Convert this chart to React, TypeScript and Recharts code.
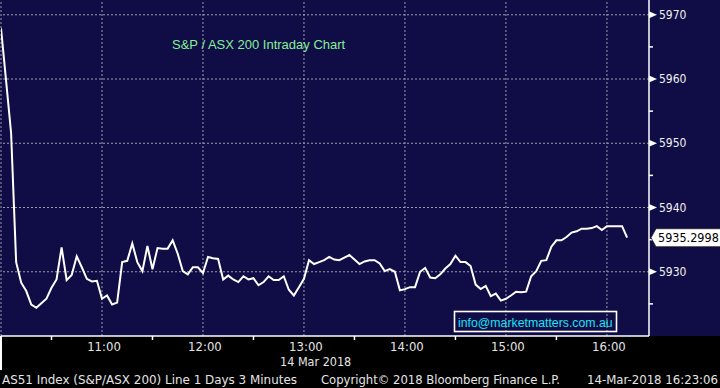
import React from "react";
import { LineChart, Line, XAxis, YAxis, ReferenceLine } from "recharts";

// S&P/ASX 200, 3-minute closes from 10:00
const closes = [
  5967.9, 5959.8, 5951.6, 5931.5, 5928.3, 5927.0, 5924.9, 5924.4, 5925.1, 5925.8,
  5927.5, 5928.8, 5933.8, 5928.7, 5929.5, 5932.4, 5930.7, 5928.9, 5928.5, 5928.6,
  5925.8, 5926.3, 5924.9, 5925.2, 5931.5, 5931.7, 5934.4, 5931.5, 5930.1, 5934.0,
  5930.4, 5933.7, 5933.6, 5933.6, 5934.9, 5932.8, 5930.1, 5929.6, 5930.7, 5930.7,
  5929.8, 5932.3, 5932.1, 5932.0, 5928.8, 5929.4, 5928.8, 5928.4, 5929.3, 5928.8,
  5929.0, 5927.9, 5928.4, 5929.3, 5928.7, 5928.7, 5929.3, 5927.2, 5926.3, 5927.6,
  5928.9, 5931.8, 5931.2, 5931.5, 5931.8, 5932.3, 5931.9, 5931.8, 5932.2, 5932.6,
  5931.9, 5931.2, 5931.6, 5931.8, 5931.8, 5931.3, 5930.1, 5930.4, 5930.0, 5927.1,
  5927.3, 5927.6, 5927.6, 5930.0, 5930.6, 5929.1, 5929.0, 5929.6, 5930.5, 5931.2,
  5932.5, 5931.5, 5931.5, 5930.9, 5928.0, 5927.3, 5927.8, 5926.2, 5926.6, 5925.5,
  5925.8, 5926.3, 5926.9, 5926.8, 5926.9, 5929.3, 5930.1, 5931.7, 5931.8, 5933.9,
  5934.9, 5934.9, 5935.4, 5936.1, 5936.3, 5936.7, 5936.7, 5936.8, 5937.1, 5936.5,
  5937.1, 5937.1, 5937.1, 5937.1, 5935.3,
];
const stepMinutes = 3;
const lastPrice = 5935.2998;

const hourGrid = [0, 60, 120, 180, 240, 300, 360];
const timeTicks = [0, 30, 60, 90, 120, 150, 180, 210, 240, 270, 300, 330, 360];
const priceGrid = [5930, 5940, 5950, 5960, 5970];
const priceTicks = [5925, 5930, 5935, 5940, 5945, 5950, 5955, 5960, 5965, 5970, lastPrice];

const data = closes.map((v, i) => ({ t: i * stepMinutes, v }));

const NAVY = "#100d46";
const GRID = "#9d9cae";
const AXIS_FONT = '"DejaVu Sans Condensed", "Liberation Sans", sans-serif';
const TITLE_FONT = '"Liberation Sans", Arial, sans-serif';

function TimeTick(props: any) {
  const { x, y, payload } = props;
  const v = payload.value;
  if (v === 0) {
    return <line x1={x} x2={x} y1={y} y2={y + 34} stroke="#fff" strokeWidth={2} />;
  }
  if (v % 60 === 30) {
    return <line x1={x} x2={x} y1={y} y2={y + 4} stroke="#fff" strokeWidth={1.5} />;
  }
  return (
    <text x={x + 2} y={y + 15} textAnchor="middle" fill="#e4e4e4" fontSize={13} fontFamily={AXIS_FONT}>
      {`${10 + v / 60}:00`}
    </text>
  );
}

function PriceTick(props: any) {
  const { x, y, payload } = props;
  const v = payload.value;
  if (v === lastPrice) {
    return (
      <g>
        <polygon
          points={`${x + 2},${y} ${x + 7},${y - 9} ${x + 72},${y - 9} ${x + 72},${y + 9} ${x + 7},${y + 9}`}
          fill="#fff"
          stroke="#222"
          strokeWidth={0.8}
        />
        <text x={x + 9} y={y} dominantBaseline="central" fill="#000" fontSize={12.5} fontFamily={AXIS_FONT}>
          {v.toFixed(4)}
        </text>
      </g>
    );
  }
  if (v % 10 !== 0) {
    return <line x1={x} x2={x + 4} y1={y} y2={y} stroke="#fff" strokeWidth={1.5} />;
  }
  return (
    <g>
      <polygon points={`${x},${y - 3.5} ${x + 8},${y} ${x},${y + 3.5}`} fill="#fff" />
      <text x={x + 10} y={y} dominantBaseline="central" fill="#f0f0f0" fontSize={12} fontFamily={AXIS_FONT}>
        {v}
      </text>
    </g>
  );
}

export default function App() {
  return (
    <div
      style={{
        position: "relative",
        width: 720,
        height: 388,
        background: `linear-gradient(to bottom, ${NAVY} 0px, ${NAVY} 336px, #000 336px)`,
      }}
    >
      <style>{"body{margin:0}"}</style>
      <LineChart width={720} height={388} data={data} margin={{ top: 0, right: 0, bottom: 0, left: 1 }}>
        {hourGrid.map((t) => (
          <ReferenceLine key={`x${t}`} x={t} stroke={GRID} strokeDasharray="2 2" strokeWidth={1} />
        ))}
        {priceGrid.map((p) => (
          <ReferenceLine key={`y${p}`} y={p} stroke={GRID} strokeDasharray="2 2" strokeWidth={1} />
        ))}
        <XAxis
          dataKey="t"
          type="number"
          domain={[0, 385]}
          allowDataOverflow
          ticks={timeTicks}
          interval={0}
          height={52}
          tickSize={0}
          tickMargin={0}
          tickLine={false}
          axisLine={{ stroke: "#fff", strokeWidth: 1.5 }}
          tick={<TimeTick />}
        />
        <YAxis
          orientation="right"
          width={71}
          domain={[5920, 5972.3]}
          allowDataOverflow
          ticks={priceTicks}
          interval={0}
          tickSize={0}
          tickMargin={0}
          tickLine={false}
          axisLine={{ stroke: "#fff", strokeWidth: 1.5 }}
          tick={<PriceTick />}
        />
        <Line
          type="linear"
          dataKey="v"
          stroke="#fff"
          strokeWidth={2}
          dot={false}
          isAnimationActive={false}
        />
      </LineChart>
      <svg width={720} height={388} style={{ position: "absolute", left: 0, top: 0, pointerEvents: "none" }}>
        <text x={172} y={49} fill="#84f095" fontSize={13} fontFamily={TITLE_FONT}>
          S&amp;P / ASX 200 Intraday Chart
        </text>
        <rect x={454.5} y={311.5} width={162} height={20} fill="none" stroke="#fff" strokeWidth={1.6} />
        <text x={458} y={327} fill="#17e3f5" fontSize={12.3} fontFamily={TITLE_FONT}>
          info@marketmatters.com.au
        </text>
        <text x={280} y={366} fill="#e4e4e4" fontSize={12.5} fontFamily={AXIS_FONT}>
          14 Mar 2018
        </text>
        <text x={2} y={384} fill="#e4e4e4" fontSize={13} fontFamily={AXIS_FONT} textLength={295} lengthAdjust="spacingAndGlyphs">
          AS51 Index (S&amp;P/ASX 200) Line 1 Days 3 Minutes
        </text>
        <text x={321} y={384} fill="#e4e4e4" fontSize={13} fontFamily={AXIS_FONT} textLength={239} lengthAdjust="spacingAndGlyphs">
          Copyright© 2018 Bloomberg Finance L.P.
        </text>
        <text x={587} y={384} fill="#e4e4e4" fontSize={13} fontFamily={AXIS_FONT} textLength={131} lengthAdjust="spacingAndGlyphs">
          14-Mar-2018 16:23:06
        </text>
      </svg>
    </div>
  );
}
